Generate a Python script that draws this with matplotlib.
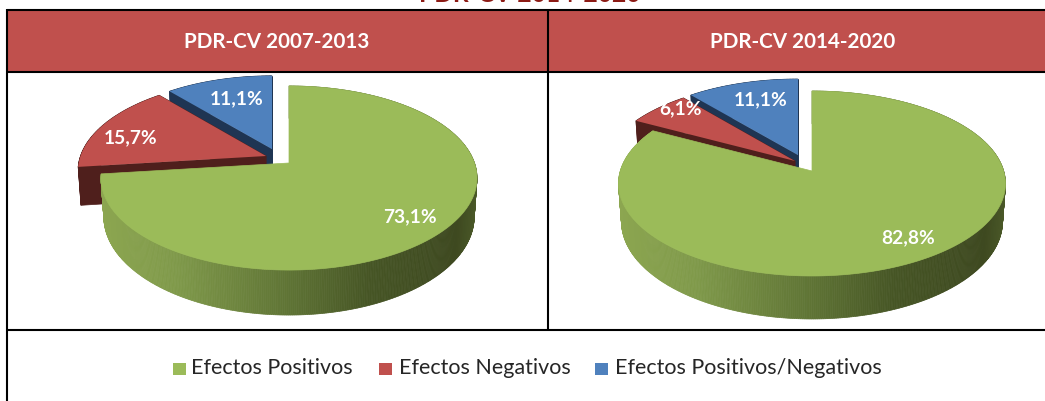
import numpy as np
from matplotlib import pyplot as plt
from matplotlib.colors import LinearSegmentedColormap
from matplotlib.patches import Polygon, Rectangle

plt.rcParams['font.family'] = ['Lato', 'DejaVu Sans']

categories = ['Efectos Positivos', 'Efectos Negativos', 'Efectos Positivos/Negativos']
titles = ['PDR-CV 2007-2013', 'PDR-CV 2014-2020']
values_2007 = [73.1, 15.7, 11.1]
values_2014 = [82.8, 6.1, 11.1]
cut_title = 'PDR-CV 2014-2020'

GREEN, RED, BLUE = '#9BBB59', '#C0504D', '#4F81BD'
DARK = ['#3F4A21', '#4F1F1C', '#1F3553']
rim = LinearSegmentedColormap.from_list(
    'rim', [(0, '#8CA650'), (0.2, '#7F994A'), (0.5, '#5F7435'), (0.72, '#465525'), (0.95, '#3E4920'), (1, '#4A5828')])


def outline(a0, a1, apex, size, persp, depth=0.0):
    # angles clockwise from 12 o'clock, a bit of perspective on the disc
    t = np.radians(np.linspace(a0, a1, max(int(a1 - a0), 2) * 2 + 1))
    u, v = np.sin(t), -np.cos(t)
    w = 1 - persp * v
    shrink = 1 - 0.015 * (depth > 0)
    x = apex[0] + size[0] * u / w * shrink
    y = apex[1] + size[1] * v / w + depth * (1 - persp) / w
    return x, y


def draw_slice(ax, a0, a1, apex, size, persp, depth, color, dark):
    x, y = outline(a0, a1, apex, size, persp)
    xb, yb = outline(a0, a1, apex, size, persp, depth)
    x = np.r_[apex[0], x, apex[0]]
    y = np.r_[apex[1], y, apex[1]]
    xb = np.r_[apex[0], xb, apex[0]]
    yb = np.r_[apex[1] + depth * (1 - persp), yb, apex[1] + depth * (1 - persp)]
    for i in range(len(x) - 1):
        ax.add_patch(Polygon([(x[i], y[i]), (x[i + 1], y[i + 1]), (xb[i + 1], yb[i + 1]), (xb[i], yb[i])],
                             fc=dark, ec=dark, lw=0.5))
    ax.add_patch(Polygon(np.c_[x, y], fc=color, ec='none'))


def draw_green(ax, a1, apex, size, persp, depth):
    x, y = outline(0, a1, apex, size, persp)
    xb, yb = outline(0, a1, apex, size, persp, depth)
    left, right = x.min(), x.max()
    for i in range(len(x) - 1):
        c = rim((x[i] - left) / (right - left))
        ax.add_patch(Polygon([(x[i], y[i]), (x[i + 1], y[i + 1]), (xb[i + 1], yb[i + 1]), (xb[i], yb[i])],
                             fc=c, ec=c, lw=0.5))
    ax.add_patch(Polygon(np.c_[np.r_[apex[0], x], np.r_[apex[1], y]], fc=GREEN, ec=GREEN, lw=0.5))


def draw_pie(ax, values, apex, size, persp, depth, red_apex, blue_apex, label_pos):
    total = 100.0
    end_green = values[0] / total * 360
    end_red = (values[0] + values[1]) / total * 360
    blue_size = (size[0] * 0.96, size[1] * 0.95)
    draw_slice(ax, end_red, 360, blue_apex, blue_size, persp, depth, BLUE, DARK[2])
    draw_slice(ax, end_green, end_red, red_apex, size, persp, depth, RED, DARK[1])
    draw_green(ax, end_green, apex, size, persp, depth)
    for val, pos in zip(values, label_pos):
        ax.text(pos[0], pos[1], f'{val:.1f}%'.replace('.', ','), color='white', fontsize=13.8, fontweight='bold',
                ha='center', va='center')


fig = plt.figure(figsize=(10.45, 4.01), dpi=100)
ax = fig.add_axes([0, 0, 1, 1])
ax.set_xlim(0, 1045)
ax.set_ylim(401, 0)
ax.axis('off')

ax.text(530, 2, cut_title, color='#8C1A14', fontsize=17.7, fontweight='bold', ha='center', va='baseline')

# table frame
ax.add_patch(Rectangle((7, 10), 1038, 62, fc=RED, ec='none'))
for xy in [((7, 1045), (10, 10)), ((7, 1045), (71.5, 71.5)), ((7, 1045), (329.5, 329.5)),
           ((7, 7), (9, 401)), ((548, 548), (10, 329))]:
    ax.plot(xy[0], xy[1], color='black', lw=1.5, solid_capstyle='butt')

ax.text(277, 41.5, titles[0], color='white', fontsize=14.9, fontweight='bold', ha='center', va='center')
ax.text(803, 41.5, titles[1], color='white', fontsize=14.9, fontweight='bold', ha='center', va='center')

draw_pie(ax, values_2007, (289, 163), (185.5, 89.6), 0.163, 45, (266, 156), (272, 149),
         [(410, 217), (131, 138), (237, 99)])
draw_pie(ax, values_2014, (812, 171), (191.7, 90.8), 0.135, 43, (795, 161), (798, 155),
         [(908, 238), (680, 109), (761, 100)])

# legend
for name, color, sq_x, txt_x in zip(categories, [GREEN, RED, BLUE], [173, 379, 595], [191, 399, 615]):
    ax.add_patch(Rectangle((sq_x, 363), 13, 12, fc=color, ec='none'))
    ax.text(txt_x, 368.5, name, color='#262626', fontsize=15.5, ha='left', va='center')

fig.savefig('out.png', dpi=100)
